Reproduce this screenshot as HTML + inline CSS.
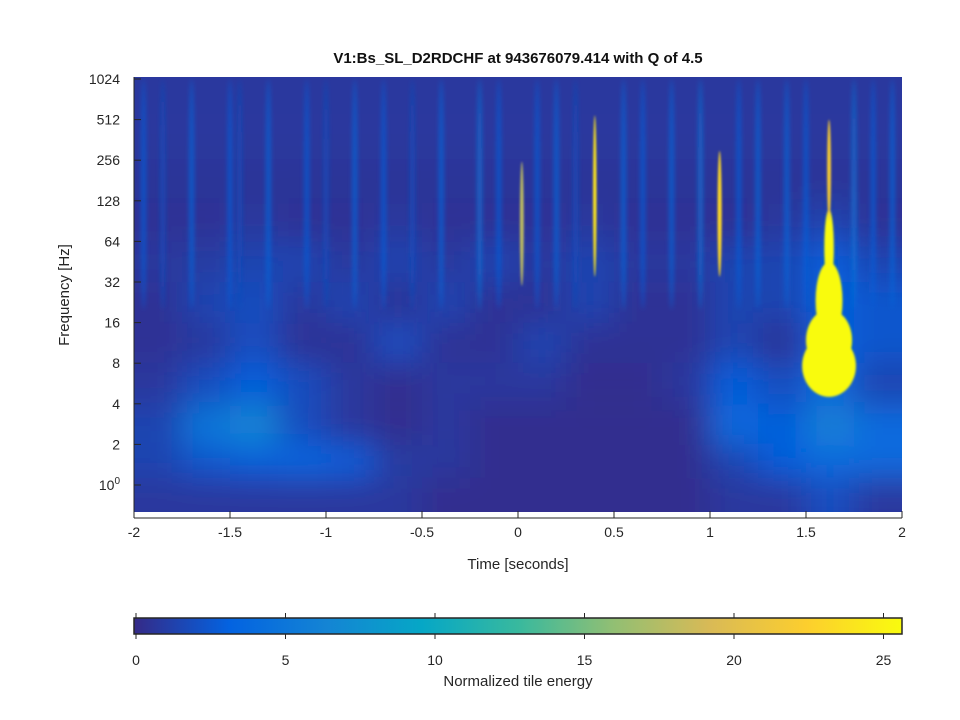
<!DOCTYPE html>
<html><head><meta charset="utf-8"><style>
body{margin:0;background:#fff;}
svg{display:block;font-family:"Liberation Sans",sans-serif;}
</style></head><body>
<svg id="chart" width="960" height="720" viewBox="0 0 960 720">
<defs>
<clipPath id="plotclip"><rect x="134" y="77" width="768" height="435"/></clipPath>
<filter id="blurBig" x="-20%" y="-20%" width="140%" height="140%"><feGaussianBlur stdDeviation="16"/></filter>
<filter id="blurSm" x="-50%" y="-50%" width="200%" height="200%"><feGaussianBlur stdDeviation="2.5"/></filter>
<filter id="blurXs" x="-50%" y="-50%" width="200%" height="200%"><feGaussianBlur stdDeviation="1"/></filter>
<linearGradient id="parula" x1="0" x2="1" y1="0" y2="0"></linearGradient>
</defs>
<rect x="0" y="0" width="960" height="720" fill="#fff"/>
<text x="518" y="63" text-anchor="middle" font-size="15" font-weight="bold" fill="#111">V1:Bs_SL_D2RDCHF at 943676079.414 with Q of 4.5</text>
<g id="plot" clip-path="url(#plotclip)">
<rect x="134" y="77" width="768" height="435" fill="#352a87"/>
<g id="cells" filter="url(#blurBig)"></g>
<g id="streaks" filter="url(#blurSm)"></g>
<g id="events" filter="url(#blurXs)"></g>
</g>
<g id="axes"></g>
<g id="cbar"></g>
</svg>
<script>
// ---- data ----
const gridTimes = [-1.875,-1.625,-1.375,-1.125,-0.875,-0.625,-0.375,-0.125,0.125,0.375,0.625,0.875,1.125,1.375,1.625,1.875];
const gridFreqs = [724,362,181,90,45,22.6,11.3,5.7,2.8,1.4,0.8];
const gridValues = [
 [0.8,0.8,0.8,0.8,0.8,0.8,0.8,0.8,0.8,0.8,0.8,0.8,0.8,0.8,0.8,0.8],
 [0.8,0.8,0.8,0.8,0.8,0.8,0.8,0.8,0.8,0.8,0.8,0.8,0.8,0.8,0.8,0.8],
 [0.6,0.6,0.6,0.6,0.6,0.6,0.6,0.6,0.6,0.6,0.6,0.6,0.6,0.6,0.6,0.6],
 [0.5,0.5,0.8,0.5,0.5,0.8,0.5,0.5,0.5,0.8,0.5,0.5,0.5,0.8,1.5,0.5],
 [0.8,1,1.5,1.5,0.8,1.5,0.8,1.5,0.8,1.5,0.8,0.8,1.5,1.5,3,1.5],
 [0.5,1.5,2,0.8,1.5,0.5,1.5,0.5,0.5,1.5,0.5,0.5,1.5,1.5,3,2.5],
 [0.5,0.8,2,0.5,0.5,2,0.5,0.5,1.5,0.5,0.5,0.5,1.5,0.5,3,2.5],
 [0.8,2,3,2,0.8,0.3,0.8,0.8,0.8,0.3,0.3,0.8,3,2,4,1.5],
 [1.5,5,6.5,2,0.8,0.3,0.8,0.3,0.3,0.3,0.3,0.3,4,3,6,4],
 [1.5,2.5,3,3.5,3,1,0.8,0.3,0.3,0.3,0.3,0.3,1.5,3,4,4],
 [0.8,0.8,0.8,0.8,0.8,0.8,0.3,0.3,0.3,0.3,0.3,0.3,0.8,0.8,2,0.8]
];
const streakTimes = [-1.95,-1.85,-1.7,-1.5,-1.45,-1.3,-1.1,-1.0,-0.85,-0.7,-0.55,-0.4,-0.2,-0.1,0.1,0.2,0.3,0.55,0.65,0.8,0.95,1.15,1.25,1.4,1.5,1.75,1.85,1.95];
const streakEnergy = [3,2,4,3,2,4,3,2,4,3,2,4,5,3,3,4,2,4,3,4,5,3,4,4,3,5,3,4];
const eventTimes = [1.62,1.62,1.62,1.62,1.62,0.02,0.40,1.05];
const eventFLow = [4.5,7,12,30,90,30,35,35];
const eventFHigh = [13,20,45,110,512,250,550,300];
const eventWidth = [0.28,0.24,0.14,0.05,0.02,0.02,0.018,0.022];
const eventEnergy = [26,26,26,26,22,18,24,23];
const xTicks = [-2,-1.5,-1,-0.5,0,0.5,1,1.5,2];
const xTickLabels = ["-2","-1.5","-1","-0.5","0","0.5","1","1.5","2"];
const yTicks = [1,2,4,8,16,32,64,128,256,512,1024];
const cbTicks = [0,5,10,15,20,25];
// ---- scales ----
const X0=134,X1=902,YTOP=79,OCT=40.6;
const xS=t=>X0+(t+2)/4*(X1-X0);
const yS=f=>YTOP+(10-Math.log2(f))*OCT;
const CMAX=25.6;
const stops=[[53,42,135],[3,99,225],[20,132,212],[6,167,198],[56,185,158],[146,191,115],[217,186,86],[252,206,46],[249,251,14]];
function cmap(v){let p=Math.max(0,Math.min(1,v/CMAX))*(stops.length-1);let i=Math.min(stops.length-2,Math.floor(p)),f=p-i;
const c=stops[i].map((a,k)=>Math.round(a+(stops[i+1][k]-a)*f));return `rgb(${c[0]},${c[1]},${c[2]})`;}
const NS="http://www.w3.org/2000/svg";
function mk(tag,attrs,parent){const e=document.createElementNS(NS,tag);for(const k in attrs)e.setAttribute(k,attrs[k]);parent.appendChild(e);return e;}
// cells
const cells=document.getElementById('cells');
gridValues.forEach((row,r)=>row.forEach((v,c)=>{
 const f=gridFreqs[r],y1=yS(f*Math.SQRT2),y2=yS(f/Math.SQRT2);
 const x1=xS(gridTimes[c]-0.125),x2=xS(gridTimes[c]+0.125);
 const el=mk('rect',{x:x1-(c==0?40:0),y:y1-(r==0?40:0),width:x2-x1+(c==0||c==15?40:0),height:y2-y1+(r==0||r==10?40:0),fill:cmap(v)},cells);
 
 
}));
// streaks
const sg=document.getElementById('streaks');
streakTimes.forEach((t,i)=>{
 const cx=xS(t),ya=yS(1024),yb=yS(20);
 const el=mk('ellipse',{cx:cx,cy:(ya+yb)/2,rx:2.5,ry:(yb-ya)/2,fill:cmap(streakEnergy[i]),opacity:0.7},sg);
 
 
});
// events
const eg=document.getElementById('events');
eventTimes.forEach((t,i)=>{
 const ya=yS(eventFHigh[i]),yb=yS(eventFLow[i]);
 const rx=Math.max(1.5,(xS(t+eventWidth[i]/2)-xS(t-eventWidth[i]/2))/2);
 const el=mk('ellipse',{cx:xS(t),cy:(ya+yb)/2,rx:rx,ry:(yb-ya)/2,fill:cmap(eventEnergy[i])},eg);
 
 
});
// axes
const ax=document.getElementById('axes');
const xl=mk('line',{x1:134,y1:518,x2:902,y2:518,stroke:'#262626','stroke-width':1},ax);


const yl=mk('line',{x1:134,y1:77,x2:134,y2:512,stroke:'#262626','stroke-width':1},ax);


xTicks.forEach((t,i)=>{
 mk('line',{x1:xS(t),y1:518,x2:xS(t),y2:511,stroke:'#262626'},ax);
 const tx=mk('text',{x:xS(t),y:537,'text-anchor':'middle','font-size':14,fill:'#262626'},ax);
 tx.textContent=xTickLabels[i];
 
 
});
yTicks.forEach(f=>{
 const y=yS(f);
 mk('line',{x1:134,y1:y,x2:141,y2:y,stroke:'#262626'},ax);
 const tx=mk('text',{x:120,y:y+5,'text-anchor':'end','font-size':14,fill:'#262626'},ax);
 if(f===1){tx.innerHTML='10<tspan font-size="10" dy="-6">0</tspan>';}else tx.textContent=String(f);
 
 
});
const xt=mk('text',{x:518,y:569,'text-anchor':'middle','font-size':15,fill:'#262626'},ax);
xt.textContent='Time [seconds]';


const yt=mk('text',{x:0,y:0,'text-anchor':'middle','font-size':15,fill:'#262626',transform:'translate(69,295) rotate(-90)'},ax);
yt.textContent='Frequency [Hz]';


// colorbar
const grad=document.getElementById('parula');
stops.forEach((s,i)=>mk('stop',{offset:i/(stops.length-1),'stop-color':`rgb(${s[0]},${s[1]},${s[2]})`},grad));
const cb=document.getElementById('cbar');
const cbS=v=>136+v*29.9;
cbTicks.forEach(v=>{
 mk('line',{x1:cbS(v),y1:613,x2:cbS(v),y2:618,stroke:'#262626'},cb);
 mk('line',{x1:cbS(v),y1:634,x2:cbS(v),y2:639,stroke:'#262626'},cb);
 const tx=mk('text',{x:cbS(v),y:665,'text-anchor':'middle','font-size':14,fill:'#262626'},cb);
 tx.textContent=String(v);
 
 
});
const cr=mk('rect',{x:134,y:618,width:768,height:16,fill:'url(#parula)',stroke:'#262626','stroke-width':1.5},cb);


const ct=mk('text',{x:518,y:686,'text-anchor':'middle','font-size':15,fill:'#262626'},cb);
ct.textContent='Normalized tile energy';


</script>
</body></html>
